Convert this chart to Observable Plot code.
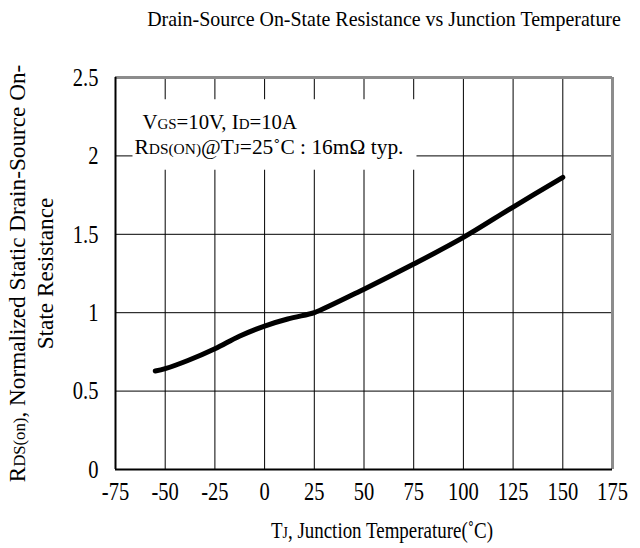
<!DOCTYPE html>
<html><head><meta charset="utf-8">
<script src="https://cdn.jsdelivr.net/npm/d3@7"></script>
<script src="https://cdn.jsdelivr.net/npm/@observablehq/plot@0.6"></script>
<style>body{margin:0;background:#fff}</style>
</head><body><div id="chart"></div>
<script>
// ---- data ----
const temperature   = [-55, -50, -38.6, -25, -12.7, 0, 11.6, 22, 25, 50, 75, 100, 125, 150];
const rdsNormalized = [0.628, 0.643, 0.695, 0.77, 0.85, 0.915, 0.96, 0.99, 1.0, 1.15, 1.31, 1.48, 1.674, 1.863];
const xTicks = [-75, -50, -25, 0, 25, 50, 75, 100, 125, 150, 175];
const yTicks = [0, 0.5, 1, 1.5, 2, 2.5];
const titleText = "Drain-Source On-State Resistance vs Junction Temperature";
const xLabelParts  = [["T", 0], ["J", 1], [", Junction Temperature(˚C)", 0]];
const yLabel1Parts = [["R", 0], ["DS(on)", 1], [", Normalized Static Drain-Source On-", 0]];
const yLabel2 = "State Resistance";
const note1Parts = [["V", 0], ["GS", 1], ["=10V, I", 0], ["D", 1], ["=10A", 0]];
const note2Parts = [["R", 0], ["DS(ON)", 1], ["@T", 0], ["J", 1], ["=25˚C : 16mΩ typ.", 0]];

const join = parts => parts.map(p => p[0]).join("");
const data = temperature.map((t, i) => ({t, r: rdsNormalized[i]}));
const xDomain = [xTicks[0], xTicks[xTicks.length - 1]];
const yDomain = [yTicks[0], yTicks[yTicks.length - 1]];
const note1 = join(note1Parts), note2 = join(note2Parts);
const xLabel = join(xLabelParts), yLabel1 = join(yLabel1Parts);

const chart = Plot.plot({
  width: 640, height: 548,
  marginTop: 77, marginRight: 28, marginBottom: 79, marginLeft: 115,
  style: {fontFamily: "'Liberation Serif', 'Times New Roman', serif", fontSize: "26px", color: "#000", background: "#fff"},
  x: {domain: xDomain, ticks: xTicks, tickSize: 0, tickPadding: 12, tickFormat: d => String(d), label: null},
  y: {domain: yDomain, ticks: yTicks, tickSize: 0, tickPadding: 17, tickFormat: d => String(d), label: null},
  marks: [
    Plot.ruleX(xTicks, {stroke: "#000", strokeWidth: 1}),
    Plot.ruleY(yTicks, {stroke: "#000", strokeWidth: 1}),
    Plot.text([note1], {text: d => d, frameAnchor: "top-left", textAnchor: "start", lineAnchor: "middle", dx: 27, dy: 45, fontSize: 20}),
    Plot.text([note2], {text: d => d, frameAnchor: "top-left", textAnchor: "start", lineAnchor: "middle", dx: 19, dy: 70, fontSize: 20}),
    Plot.ruleX([xDomain[1]], {stroke: "#8c8c8c", strokeWidth: 3}),
    Plot.ruleY([yDomain[1]], {stroke: "#8c8c8c", strokeWidth: 3}),
    Plot.ruleX([xDomain[0]], {stroke: "#000", strokeWidth: 2}),
    Plot.ruleY([yDomain[0]], {stroke: "#000", strokeWidth: 2}),
    Plot.line(data, {x: "t", y: "r", stroke: "#000", strokeWidth: 5, curve: "catmull-rom", strokeLinecap: "round", strokeLinejoin: "round"}),
    Plot.text([titleText], {text: d => d, frameAnchor: "top", textAnchor: "middle", lineAnchor: "middle", dx: 20, dy: -59, fontSize: 22}),
    Plot.text([xLabel], {text: d => d, frameAnchor: "bottom", textAnchor: "middle", lineAnchor: "middle", dx: 18, dy: 61, fontSize: 23}),
    Plot.text([yLabel1 + "\n" + yLabel2], {text: d => d, frameAnchor: "left", textAnchor: "middle", lineAnchor: "middle", dx: -85, rotate: -90, fontSize: 23, lineHeight: 1.22})
  ]
});
document.getElementById("chart").append(chart);

// ---- text post-processing: small subscript letters and condensed glyphs ----
const NS = "http://www.w3.org/2000/svg";
function richify(el, parts) {
  while (el.firstChild) el.removeChild(el.firstChild);
  for (const [s, small] of parts) {
    const ts = document.createElementNS(NS, "tspan");
    ts.textContent = s;
    if (small) ts.style.fontSize = "0.72em";
    el.appendChild(ts);
  }
}
function scaleX(el, k) {
  let tr = el.getAttribute("transform");
  if (tr == null) {
    const x = el.getAttribute("x") || 0, y = el.getAttribute("y") || 0;
    el.removeAttribute("x"); el.removeAttribute("y");
    tr = `translate(${x},${y})`;
  }
  el.setAttribute("transform", tr + ` scale(${k},1)`);
}
const fit = (el, w) => scaleX(el, w / el.getBBox().width);

const texts = Array.from(chart.querySelectorAll("text"));
let note1El, note2El;
for (const el of texts) {
  const c = el.textContent;
  if (c === note1) { richify(el, note1Parts); fit(el, 155); note1El = el; }
  else if (c === note2) { richify(el, note2Parts); fit(el, 269); note2El = el; }
  else if (c === titleText) fit(el, 474);
  else if (c === xLabel) { richify(el, xLabelParts); fit(el, 222); }
  else if (c === yLabel1 + yLabel2) {
    const t1 = Array.from(el.querySelectorAll("tspan")).find(t => t.textContent === yLabel1);
    if (t1) richify(t1, yLabel1Parts);
    fit(el, 418);
  }
  else scaleX(el, 0.79);
}
// white box behind the annotation
if (note1El && note2El) {
  const s = chart.getBoundingClientRect();
  const a = note1El.getBoundingClientRect(), b = note2El.getBoundingClientRect();
  const x0 = Math.min(a.left, b.left) - s.left - 2, x1 = Math.max(a.right, b.right) - s.left + 13;
  const y0 = Math.min(a.top, b.top) - s.top - 12, y1 = Math.max(a.bottom, b.bottom) - s.top + 11;
  const r = document.createElementNS(NS, "rect");
  r.setAttribute("x", x0); r.setAttribute("y", y0);
  r.setAttribute("width", x1 - x0); r.setAttribute("height", y1 - y0);
  r.setAttribute("fill", "#fff");
  const g = note1El.parentNode;
  g.parentNode.insertBefore(r, g);
}
</script>
</body></html>
